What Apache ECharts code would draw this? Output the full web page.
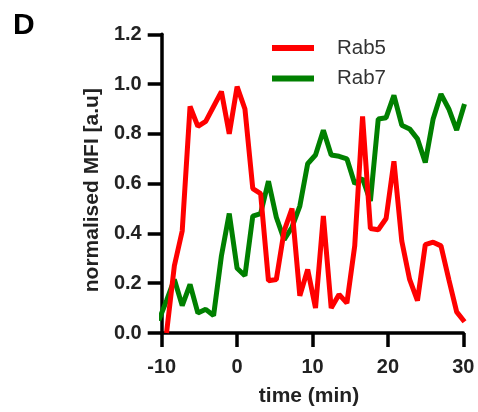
<!DOCTYPE html>
<html>
<head>
<meta charset="utf-8">
<script src="https://cdn.jsdelivr.net/npm/echarts@6/dist/echarts.min.js"></script>
<style>
  html, body { margin: 0; padding: 0; background: #fff; }
  #chart { width: 478px; height: 412px; }
</style>
</head>
<body>
<div id="chart"></div>
<script>
// time points (min)
const times = [-10.4, -9.36, -8.32, -7.28, -6.24, -5.2, -4.16, -3.12, -2.08, -1.04,
  0, 1.04, 2.08, 3.12, 4.16, 5.2, 6.24, 7.28, 8.32, 9.36,
  10.4, 11.44, 12.48, 13.52, 14.56, 15.6, 16.64, 17.68, 18.72, 19.76,
  20.8, 21.84, 22.88, 23.92, 24.96, 26, 27.04, 28.08, 29.12, 30.16]

const rab5 = [null, 0.0, 0.27, 0.41, 0.91, 0.83, 0.85, 0.91, 0.97, 0.80,
  0.99, 0.90, 0.58, 0.56, 0.21, 0.215, 0.41, 0.50, 0.15, 0.255,
  0.10, 0.47, 0.10, 0.155, 0.12, 0.35, 0.87, 0.42, 0.415, 0.46,
  0.69, 0.37, 0.215, 0.13, 0.355, 0.365, 0.35, 0.215, 0.085, 0.045]

const rab7 = [0.05, 0.13, 0.215, 0.11, 0.195, 0.08, 0.095, 0.07, 0.31, 0.48,
  0.26, 0.23, 0.47, 0.48, 0.61, 0.465, 0.375, 0.425, 0.51, 0.68,
  0.715, 0.815, 0.715, 0.71, 0.70, 0.60, 0.62, 0.53, 0.86, 0.865,
  0.955, 0.835, 0.82, 0.78, 0.685, 0.86, 0.96, 0.90, 0.815, 0.92]

const xTicks = [-10, 0, 10, 20, 30]
const yTicks = [0, 0.2, 0.4, 0.6, 0.8, 1.0, 1.2]

const font = '"Liberation Sans", Arial, sans-serif'
const pairs = vals => times.map((t, i) => [t, vals[i]])

const chart = echarts.init(document.getElementById('chart'), null, { renderer: 'canvas' })
const axisTick = { show: true, length: 14, lineStyle: { color: '#000', width: 3.5 } }

const option = {
  animation: false,
  backgroundColor: '#fff',
  title: {
    text: 'D',
    left: 8,
    top: 6,
    textStyle: { fontFamily: font, fontSize: 30, fontWeight: 'bold', color: '#000' }
  },
  grid: { left: 161.7, right: 14.7, top: 34.3, bottom: 74.7, containLabel: false },
  legend: {
    orient: 'vertical',
    left: 272,
    top: 36,
    padding: 0,
    icon: 'rect',
    itemWidth: 42,
    itemHeight: 6,
    itemGap: 6.6,
    data: ['Rab5', 'Rab7'],
    textStyle: { fontFamily: font, fontSize: 20.5, color: '#333', lineHeight: 24, padding: [0, 0, 0, 18] }
  },
  xAxis: {
    type: 'value',
    min: xTicks[0],
    max: xTicks[xTicks.length - 1],
    interval: 10,
    name: 'time (min)',
    nameLocation: 'middle',
    nameGap: 53,
    nameTextStyle: { fontFamily: font, fontSize: 21, fontWeight: 'bold', color: '#222', padding: [0, 7, 0, 0] },
    axisLine: { show: true, onZero: false, lineStyle: { color: '#000', width: 3.5 } },
    axisTick,
    splitLine: { show: false },
    axisLabel: { margin: 24, fontFamily: font, fontSize: 20, fontWeight: 'bold', color: '#222' }
  },
  yAxis: {
    type: 'value',
    min: yTicks[0],
    max: yTicks[yTicks.length - 1],
    interval: 0.2,
    name: 'normalised MFI [a.u]',
    nameLocation: 'middle',
    nameGap: 51,
    nameTextStyle: { fontFamily: font, fontSize: 21, fontWeight: 'bold', color: '#222', padding: [0, 13, 0, 0] },
    axisLine: { show: true, onZero: false, lineStyle: { color: '#000', width: 3.5 } },
    axisTick,
    splitLine: { show: false },
    axisLabel: {
      margin: 20, fontFamily: font, fontSize: 20, fontWeight: 'bold', color: '#222',
      formatter: v => v.toFixed(1)
    }
  },
  series: [
    {
      name: 'Rab5',
      type: 'line',
      data: pairs(rab5),
      showSymbol: false,
      clip: false,
      z: 3,
      color: '#ff0000',
      lineStyle: { color: '#ff0000', width: 5 }
    },
    {
      name: 'Rab7',
      type: 'line',
      data: pairs(rab7),
      showSymbol: false,
      clip: false,
      z: 2,
      color: '#008000',
      lineStyle: { color: '#008000', width: 5 }
    }
  ]
}
chart && chart.setOption(option)
</script>
</body>
</html>
